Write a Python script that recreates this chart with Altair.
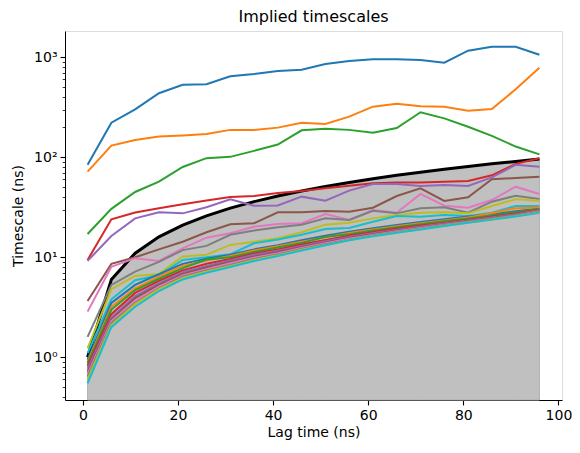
import altair as alt
import pandas as pd

lags = [1, 6, 11, 16, 21, 26, 31, 36, 41, 46, 51, 56, 61, 66, 71, 76, 81, 86, 91, 96]

ts = [
    [84, 222, 302, 437, 532, 537, 646, 681, 730, 752, 857, 918, 955, 955, 940, 883, 1164, 1276, 1276, 1062],
    [72, 131, 149, 161, 165, 171, 188, 188, 198, 222, 215, 255, 321, 343, 324, 321, 292, 304, 479, 787],
    [17.1, 30.5, 45, 57, 80, 98, 101, 116, 134, 186, 193, 188, 176, 196, 282, 245, 202, 164, 128, 107],
    [9.4, 24, 28, 31, 34, 37, 40, 41, 44, 46, 49, 52, 55, 56, 56, 57, 58, 66, 86, 98],
    [9.2, 16.3, 24.5, 28.2, 27.5, 31.6, 38, 32.8, 33, 40.4, 36.8, 46.4, 54, 54, 51.6, 52.8, 51.6, 63, 84, 80.5],
    [3.66, 8.6, 10, 12, 14.3, 17.8, 21.4, 21.9, 28.2, 28.2, 29, 28.6, 31.3, 41, 49, 36.6, 39.8, 60.3, 62, 64],
    [2.86, 8.05, 9.8, 9.2, 12.3, 15.7, 17.4, 20.2, 21.5, 21.9, 27.1, 23.6, 29.7, 27.9, 43, 32.8, 31.3, 37.4, 50.8, 43],
    [1.6, 5.3, 7.2, 9.0, 11.8, 13.0, 16.8, 18.5, 20.0, 21.2, 24.5, 23.6, 29.2, 27.5, 30.9, 31.6, 27.9, 36, 41.3, 38.3],
    [1.23, 4.8, 6.5, 6.8, 10.2, 10.6, 13.3, 14.3, 15.5, 17.8, 21.2, 22.2, 24.5, 26.5, 27.9, 28.2, 27.5, 32.6, 38, 36.8],
    [1.1, 3.8, 5.9, 6.6, 9.4, 10, 10.7, 13.8, 15.1, 16.8, 19.2, 19.6, 22.7, 25.9, 25.4, 26.5, 25.9, 27.9, 32.6, 32.6],
    [0.95, 3.5, 5.3, 6.8, 8.6, 9.7, 10.6, 12.0, 13.2, 14.8, 16.4, 18.0, 19.5, 21.0, 22.5, 24.0, 25.6, 27.0, 28.8, 30.8],
    [0.90, 3.2, 4.9, 6.4, 8.2, 9.3, 10.3, 11.7, 12.9, 14.3, 15.9, 17.5, 19.0, 20.4, 21.9, 23.4, 25.0, 27.6, 31.0, 31.4],
    [0.87, 3.0, 4.7, 6.1, 7.8, 9.5, 10.0, 11.3, 12.5, 13.9, 16.0, 17.0, 18.5, 20.0, 21.4, 23.0, 24.5, 26.2, 28.2, 30.6],
    [0.82, 2.7, 4.4, 5.8, 7.4, 8.6, 9.6, 10.9, 12.0, 13.4, 14.9, 16.4, 17.9, 19.4, 20.8, 22.2, 23.8, 25.5, 27.4, 29.9],
    [0.77, 2.5, 4.1, 5.5, 7.1, 8.2, 9.3, 10.6, 11.6, 13.0, 14.5, 16.0, 17.4, 18.9, 20.3, 21.8, 23.4, 25.0, 26.9, 29.5],
    [0.72, 2.4, 3.9, 5.3, 6.8, 7.9, 9.0, 10.2, 11.3, 12.7, 14.1, 15.6, 17.0, 18.5, 19.9, 21.4, 23.0, 24.6, 26.5, 29.1],
    [0.68, 2.3, 3.7, 5.1, 6.6, 7.6, 8.7, 9.9, 11.0, 12.4, 13.8, 15.3, 16.7, 18.2, 19.6, 21.1, 22.7, 24.3, 26.2, 28.8],
    [0.64, 2.2, 3.5, 4.9, 6.4, 7.4, 8.4, 9.6, 10.7, 12.1, 13.5, 15.0, 16.5, 17.9, 19.3, 20.9, 22.5, 24.1, 26.0, 28.5],
    [0.60, 2.1, 3.4, 4.8, 6.2, 7.2, 8.2, 9.4, 10.5, 11.9, 13.3, 14.9, 16.3, 17.7, 19.1, 20.7, 22.3, 23.9, 25.8, 28.1],
    [0.55, 2.0, 3.2, 4.6, 6.0, 7.0, 8.0, 9.2, 10.3, 11.7, 13.2, 14.8, 16.2, 17.6, 19.0, 20.6, 22.2, 23.8, 25.6, 27.8],
]

tab10 = ["#1f77b4", "#ff7f0e", "#2ca02c", "#d62728", "#9467bd",
         "#8c564b", "#e377c2", "#7f7f7f", "#bcbd22", "#17becf"]

y_ticks = [0.4, 0.5, 0.6, 0.7, 0.8, 0.9, 1, 2, 3, 4, 5, 6, 7, 8, 9,
           10, 20, 30, 40, 50, 60, 70, 80, 90, 100, 200, 300, 400, 500,
           600, 700, 800, 900, 1000]
x_ticks = [0, 20, 40, 60, 80, 100]
y_min, y_max = 0.374, 1832

rows = []
for i, series in enumerate(ts):
    for lag, v in zip(lags, series):
        rows.append({"process": f"p{i:02d}", "lag": lag, "ts": v})
df = pd.DataFrame(rows)
lag_df = pd.DataFrame({"lag": lags, "ts": lags, "base": [y_min] * len(lags)})

names = [f"p{i:02d}" for i in range(len(ts))]
colors = [tab10[i % 10] for i in range(len(ts))]

FONT = "DejaVu Sans"
xscale = alt.Scale(domain=[-3.75, 100.75], nice=False, zero=False)
yscale = alt.Scale(type="log", domain=[y_min, y_max], nice=False)

major_test = "abs(log(datum.value)/LN10 - round(log(datum.value)/LN10)) < 0.001"
label_expr = ("datum.value == 1 ? '10⁰' : datum.value == 10 ? '10¹' : "
              "datum.value == 100 ? '10²' : datum.value == 1000 ? '10³' : ''")

x_enc = alt.X("lag:Q", scale=xscale,
              axis=alt.Axis(values=x_ticks, title="Lag time (ns)", grid=False,
                            tickSize=5, tickWidth=1.1, tickColor="black",
                            domainColor="black", labelPadding=3,
                            labelFontSize=14, titleFontSize=14,
                            labelFont=FONT, titleFont=FONT, titlePadding=3,
                            labelColor="black", titleColor="black",
                            titleFontWeight="normal"))
y_enc = alt.Y("ts:Q", scale=yscale,
              axis=alt.Axis(values=y_ticks, title="Timescale (ns)", grid=False,
                            labelExpr=label_expr,
                            tickSize={"condition": {"test": major_test, "value": 5}, "value": 2.8},
                            tickWidth={"condition": {"test": major_test, "value": 1.1}, "value": 0.8},
                            tickColor="black", domainColor="black",
                            labelPadding=3, labelFontSize=14, titleFontSize=14,
                            labelFont=FONT, titleFont=FONT, titlePadding=8,
                            labelColor="black", titleColor="black",
                            titleFontWeight="normal", labelFlush=False,
                            labelOverlap=False))

area = alt.Chart(lag_df).mark_area(color="#c0c0c0", stroke="#b0b0b0",
                                   strokeWidth=1, opacity=1).encode(
    x=x_enc, y=y_enc, y2="base:Q")

black = alt.Chart(lag_df).mark_line(color="black", strokeWidth=3).encode(
    x=alt.X("lag:Q", scale=xscale), y=alt.Y("ts:Q", scale=yscale))

lines = alt.Chart(df).mark_line(strokeWidth=2).encode(
    x=alt.X("lag:Q", scale=xscale),
    y=alt.Y("ts:Q", scale=yscale),
    color=alt.Color("process:N", scale=alt.Scale(domain=names, range=colors), legend=None),
    order=alt.Order("lag:Q"),
)

chart = alt.layer(area, black, lines).properties(
    width=497, height=369,
    title=alt.TitleParams("Implied timescales", fontSize=16, font=FONT,
                          fontWeight="normal", color="black", anchor="middle",
                          offset=6),
    autosize=alt.AutoSizeParams(type="none"),
    padding={"left": 57, "top": 23, "right": 10, "bottom": 45},
).configure_view(stroke="black", strokeWidth=1.1).configure(
    background="white")

chart.save("out.html", embed_options={"renderer": "svg", "actions": False})
